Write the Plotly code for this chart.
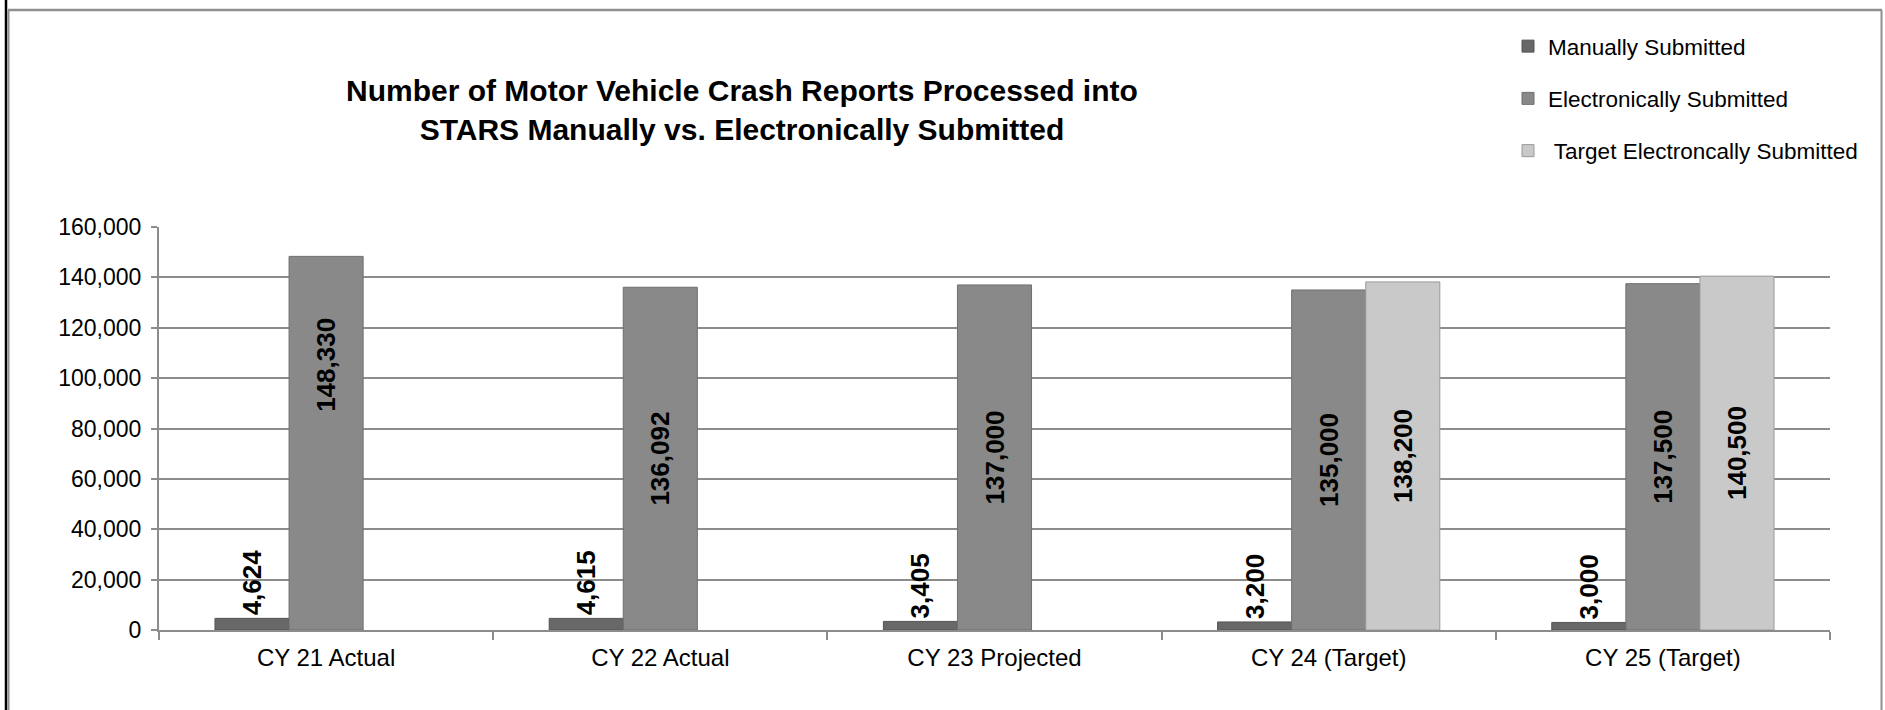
import plotly.graph_objects as go

# Reporting periods and counts of crash reports processed into STARS
categories = ["CY 21 Actual", "CY 22 Actual", "CY 23 Projected", "CY 24 (Target)", "CY 25 (Target)"]
manual = [4624, 4615, 3405, 3200, 3000]
electronic = [148330, 136092, 137000, 135000, 137500]
target_electronic = [None, None, None, 138200, 140500]

series_names = ["Manually Submitted", "Electronically Submitted", " Target Electroncally Submitted"]

y_ticks = [0, 20000, 40000, 60000, 80000, 100000, 120000, 140000, 160000]

FONT = "Liberation Sans, Arial, sans-serif"
W, H = 1885, 710
L, R, T, B = 159, 1830, 227, 630


def px_x(px):
    return (px - L) / (R - L)


def px_y(py):
    return (B - py) / (B - T)


def fmt(v):
    return f"{v:,}"


label_font = dict(family=FONT, size=26, color="black", weight="bold")

fig = go.Figure()

fig.add_trace(go.Bar(
    name=series_names[0], x=categories, y=manual, legendgroup="m",
    marker=dict(color="#686868", line=dict(color="#555555", width=1)),
    text=[fmt(v) for v in manual], textposition="outside", textangle=-90,
    textfont=label_font, constraintext="none", cliponaxis=False,
))

# the first electronic label sits higher inside its bar; drawn as an annotation below
elec_text = [fmt(v) for v in electronic]
elec_text[0] = ""
fig.add_trace(go.Bar(
    name=series_names[1], x=categories, y=electronic, legendgroup="e",
    marker=dict(color="#898989", line=dict(color="#6f6f6f", width=1)),
    text=elec_text, textposition="inside", insidetextanchor="middle", textangle=-90,
    textfont=label_font, constraintext="none",
))

fig.add_trace(go.Bar(
    name=series_names[2], x=categories, y=target_electronic, legendgroup="t",
    marker=dict(color="#c9c9c9", line=dict(color="#9a9a9a", width=1)),
    text=[fmt(v) if v is not None else "" for v in target_electronic],
    textposition="inside", insidetextanchor="middle", textangle=-90,
    textfont=label_font, constraintext="none",
))

fig.add_annotation(
    x=categories[0], y=electronic[0] * 0.71, xref="x", yref="y",
    text=fmt(electronic[0]), textangle=-90, showarrow=False,
    font=label_font, yanchor="middle", xanchor="center",
)

grid = "#8c8c8c"

# outer chart frame
frame = "#8f8f8f"
fig.add_shape(type="line", xref="paper", yref="paper",
              x0=px_x(6), x1=px_x(6), y0=px_y(0), y1=px_y(H),
              line=dict(color="black", width=2.5))
fig.add_shape(type="line", xref="paper", yref="paper",
              x0=px_x(8.5), x1=px_x(8.5), y0=px_y(10), y1=px_y(H),
              line=dict(color=frame, width=2))
fig.add_shape(type="line", xref="paper", yref="paper",
              x0=px_x(8), x1=px_x(1882), y0=px_y(10), y1=px_y(10),
              line=dict(color=frame, width=2.5))
fig.add_shape(type="line", xref="paper", yref="paper",
              x0=px_x(1881.5), x1=px_x(1881.5), y0=px_y(10), y1=px_y(H),
              line=dict(color=frame, width=2))

fig.update_layout(
    width=W, height=H,
    margin=dict(l=L, r=W - R, t=T, b=H - B, autoexpand=False),
    paper_bgcolor="white", plot_bgcolor="white",
    barmode="group", bargap=0.335, bargroupgap=0,
    font=dict(family=FONT, size=22, color="black"),
    title=dict(
        text="Number of Motor Vehicle Crash Reports Processed into<br>STARS Manually vs. Electronically Submitted",
        font=dict(family=FONT, size=30, color="black", weight="bold"),
        x=0.3936, xanchor="center", xref="container",
        y=0.858, yanchor="middle", yref="container",
    ),
    legend=dict(
        x=px_x(1508), y=px_y(25), xanchor="left", yanchor="top",
        font=dict(family=FONT, size=22.5, color="black"),
        tracegroupgap=20, traceorder="grouped",
        bgcolor="rgba(0,0,0,0)", itemwidth=30,
    ),
    showlegend=True,
    xaxis=dict(
        showline=True, linecolor=grid, linewidth=2,
        ticks="outside", tickson="boundaries", ticklen=8, tickcolor=grid, tickwidth=2,
        tickfont=dict(size=24), showgrid=False, ticklabelstandoff=5,
    ),
    yaxis=dict(
        range=[0, 160000], tickvals=y_ticks, tickformat=",",
        showline=True, linecolor=grid, linewidth=2,
        showgrid=True, gridcolor=grid, gridwidth=1.5,
        ticks="outside", ticklen=6, tickcolor=grid, tickwidth=2,
        tickfont=dict(size=23), ticklabelstandoff=5, zeroline=False,
    ),
)

fig.write_html("out.html")
